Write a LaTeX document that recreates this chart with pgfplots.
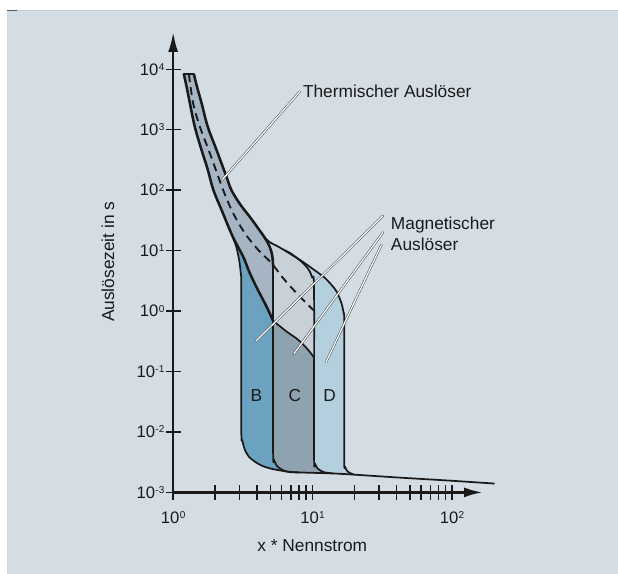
\documentclass[border=0pt]{standalone}
\usepackage{pgfplots}
\pgfplotsset{compat=1.18}
\usepackage{fontspec}
\setmainfont{Liberation Sans}
\usetikzlibrary{arrows.meta}
\definecolor{bgc}{HTML}{D4DDE4}
\definecolor{thermal}{HTML}{A5B5C3}
\definecolor{bblue}{HTML}{6AA2C0}
\definecolor{cdark}{HTML}{8FA2B0}
\definecolor{clight}{HTML}{C9D1D8}
\definecolor{dlight}{HTML}{B4D0DF}
\definecolor{txt}{HTML}{1A1A1A}
\definecolor{lineg}{HTML}{C4CACE}
\definecolor{darkg}{HTML}{555555}
\newcommand{\tp}[1]{10\kern0.2pt\raisebox{3.6pt}{\fontsize{7.5pt}{8pt}\selectfont #1}}
\newcommand{\lab}{\fontsize{13pt}{15pt}\selectfont}
\begin{document}
\begin{tikzpicture}
\begin{scope}[x=0.75pt,y=-0.75pt]
\path (0,0) rectangle (618,574);
\fill[bgc] (7,10) rectangle (618,574);
\draw[line width=0.75pt, lineg] (7,10.4) -- (618,10.4);
\draw[line width=0.75pt, darkg] (7,10.4) -- (17,10.4);
\end{scope}
\begin{axis}[
  at={(129.975pt,-369.6pt)}, anchor=south west,
  scale only axis, width=232.3pt, height=345.6pt,
  xmode=log, ymode=log,
  xmin=1, xmax=166, ymin=1e-3, ymax=41400,
  axis lines=left, clip=false,
  axis line style={line width=1.8pt, txt},
  x axis line style={-{Latex[length=14pt,width=7.5pt]}},
  y axis line style={-{Latex[length=15pt,width=7.5pt]}},
  xtick={1,10,100}, xticklabels={\tp{0},\tp{1},\tp{2}},
  ytick={1e-3,1e-2,1e-1,1,10,100,1000,10000},
  yticklabels={\tp{-3},\tp{-2},\tp{-1},\tp{0},\tp{1},\tp{2},\tp{3},\tp{4}},
  yminorticks=false,
  tick align=center, major tick length=11.25pt, minor tick length=11.25pt,
  tick style={line width=1.1pt, txt},
  every tick label/.append style={font=\fontsize{12.5pt}{14pt}\selectfont, text=txt, inner sep=0pt},
  xticklabel style={anchor=north},
  yticklabel style={anchor=east},
  xticklabel shift=8.75pt,
  yticklabel shift=0.8pt,
]
% D band (light blue)
\addplot[fill=dlight, draw=none] coordinates {
(1.193,8360) (1.254,4909) (1.317,2773) (1.431,1112) (1.598,463) (1.773,216.6) (1.942,101) (2.223,47.2) (2.679,16.9)
(2.838,11.56) (2.972,7.05) (3.052,4.30) (3.083,2.25) (3.083,0.01092) (3.124,0.00746) (3.266,0.00509) (3.488,0.00391) (3.852,0.00323) (4.395,0.00272) (5.21,0.002427) (6.53,0.00221)
(8.09,0.00214) (13.96,0.00206) (19.74,0.001969)
(17.88,0.00221) (17.1,0.00267) (16.87,0.003761) (16.87,0.594)
(16.68,0.938) (16.11,1.356) (14.91,2.085) (13.66,2.72) (12.23,3.55) (10.66,4.51) (9.24,5.71) (8.094,7.05) (7.093,8.52) (6.22,10.31)
(5.54,12.0) (5.015,13.46) (4.54,16.3)
(4.048,23.8) (3.546,36.2) (3.007,59.4) (2.614,101) (2.414,166) (2.047,463) (1.773,1112) (1.598,2773) (1.491,4909) (1.407,8360)
} -- cycle;
% C band (light grey)
\addplot[fill=clight, draw=none] coordinates {
(1.193,8360) (1.254,4909) (1.317,2773) (1.431,1112) (1.598,463) (1.773,216.6) (1.942,101) (2.223,47.2) (2.679,16.9)
(2.838,11.56) (2.972,7.05) (3.052,4.30) (3.083,2.25) (3.083,0.01092) (3.124,0.00746) (3.266,0.00509) (3.488,0.00391) (3.852,0.00323) (4.395,0.00272) (5.21,0.002427) (6.53,0.00221)
(8.09,0.00214) (13.96,0.00206) (12.03,0.002165) (10.90,0.002474) (10.42,0.00299) (10.25,0.004215) (10.25,2.25)
(9.95,3.55) (9.393,4.815) (8.506,6.285) (7.70,7.60) (6.87,9.20) (6.22,10.31) (5.54,12.0) (5.015,13.46) (4.54,16.3)
(4.048,23.8) (3.546,36.2) (3.007,59.4) (2.614,101) (2.414,166) (2.047,463) (1.773,1112) (1.598,2773) (1.491,4909) (1.407,8360)
} -- cycle;
% C band below thermal curve (dark grey)
\addplot[fill=cdark, draw=none] coordinates {
(5.21,0.691) (6.50,0.460) (7.87,0.3355) (9.29,0.229) (10.25,0.169) (10.25,0.004215) (10.42,0.00299) (10.90,0.002474) (12.03,0.002165) (13.96,0.00206)
(8.09,0.00214) (6.87,0.002165) (6.015,0.00238) (5.54,0.00277) (5.287,0.00348) (5.21,0.0051)
} -- cycle;
% B band (dark blue)
\addplot[fill=bblue, draw=none] coordinates {
(2.679,16.9) (2.838,11.56) (2.972,7.05) (3.052,4.30) (3.083,2.25) (3.083,0.01092) (3.124,0.00746) (3.266,0.00509) (3.488,0.00391) (3.852,0.00323) (4.395,0.00272) (5.21,0.002427) (6.53,0.00221)
(6.015,0.00238) (5.54,0.00277) (5.287,0.00348) (5.21,0.0051) (5.21,5.61) (5.14,8.2) (4.93,11.55) (4.54,16.3)
} -- cycle;
% thermal band
\addplot[fill=thermal, draw=none] coordinates {
(1.193,8360) (1.254,4909) (1.317,2773) (1.431,1112) (1.598,463) (1.773,216.6) (1.942,101) (2.223,47.2) (2.679,16.9)
(3.176,7.99) (3.546,4.25) (4.048,2.25) (4.672,1.19) (5.21,0.691) (5.21,5.61) (5.14,8.2) (4.93,11.55) (4.54,16.3)
(4.048,23.8) (3.546,36.2) (3.007,59.4) (2.614,101) (2.414,166) (2.047,463) (1.773,1112) (1.598,2773) (1.491,4909) (1.407,8360)
} -- cycle;
% outlines (magnetic)
\addplot[txt, line width=1.3pt, smooth, tension=0.5, line join=round] coordinates {
(5.21,0.691) (6.50,0.460) (7.87,0.3355) (9.29,0.229) (10.25,0.169)};
\addplot[txt, line width=1.3pt, smooth, tension=0.4, line join=round] coordinates {
(5.21,5.61) (5.21,0.0051) (5.287,0.00348) (5.54,0.00277) (6.015,0.00238) (6.87,0.002165) (8.09,0.00214)};
\addplot[txt, line width=1.3pt, smooth, tension=0.45, line join=round] coordinates {
(2.679,16.9) (2.838,11.56) (2.972,7.05) (3.052,4.30) (3.083,2.25) (3.083,0.01092) (3.124,0.00746) (3.266,0.00509) (3.488,0.00391) (3.852,0.00323) (4.395,0.00272) (5.21,0.002427) (6.53,0.00221)};
\addplot[txt, line width=1.3pt, smooth, tension=0.45, line join=round] coordinates {
(4.54,16.3) (5.015,13.46) (5.54,12.0) (6.22,10.31) (6.87,9.20) (7.70,7.60) (8.506,6.285) (9.393,4.815) (9.95,3.55) (10.25,2.25)
(10.25,0.004215) (10.42,0.00299) (10.90,0.002474) (12.03,0.002165) (13.96,0.00206)};
\addplot[txt, line width=1.3pt, smooth, tension=0.45, line join=round] coordinates {
(6.22,10.31) (7.093,8.52) (8.094,7.05) (9.24,5.71) (10.66,4.51) (12.23,3.55) (13.66,2.72) (14.91,2.085) (16.11,1.356) (16.68,0.938) (16.87,0.594)
(16.87,0.003761) (17.1,0.00267) (17.88,0.00221) (19.74,0.001969)};
\addplot[txt, line width=1.3pt, smooth, tension=0.45, line join=round] coordinates {
(6.53,0.00221) (8.09,0.00214) (13.96,0.00206) (19.74,0.001969) (42.2,0.001756) (96.3,0.001567) (202.3,0.00140)};
% thermal outlines
\addplot[txt, line width=1.9pt, smooth, tension=0.6, line join=round] coordinates {
(1.193,8360) (1.254,4909) (1.317,2773) (1.431,1112) (1.598,463) (1.773,216.6) (1.942,101) (2.223,47.2) (2.679,16.9)
(3.176,7.99) (3.546,4.25) (4.048,2.25) (4.672,1.19) (5.21,0.691)};
\addplot[txt, line width=1.9pt, smooth, tension=0.6, line join=round] coordinates {
(1.407,8360) (1.491,4909) (1.598,2773) (1.773,1112) (2.047,463) (2.414,166) (2.614,101) (3.007,59.4) (3.546,36.2) (4.048,23.8) (4.54,16.3)
(4.93,11.55) (5.14,8.2) (5.21,5.61)};
\addplot[txt, line width=1.9pt, line cap=round] coordinates {(1.193,8360) (1.407,8360)};
% dashed mean curve
\addplot[txt, line width=1.4pt, smooth, tension=0.5, dash pattern=on 6pt off 4pt] coordinates {
(1.296,8360) (1.391,2742) (1.554,1125) (1.833,409) (2.282,101) (2.692,41.7) (3.266,19.47) (4.068,10.31) (5.075,6.21) (6.145,3.513) (7.665,1.984) (9.55,1.191) (10.66,0.927)};
\end{axis}
\begin{scope}[x=0.75pt,y=-0.75pt]
\tikzset{leader/.style={draw=black!70, double=white, double distance=0.9pt, line width=0.4pt, line cap=round}}
\draw[leader] (222.3,180) -- (300,91.7);
\draw[leader] (256.7,340.7) -- (383.3,216);
\draw[leader] (294,354.3) -- (383.3,232.7);
\draw[leader] (326.7,361.7) -- (381.7,245);
\node[anchor=base west, font=\lab, text=txt, inner sep=0pt] at (303,97.3) {Thermischer Auslöser};
\node[anchor=base west, font=\lab, text=txt, inner sep=0pt] at (391,230) {Magnetischer};
\node[anchor=base west, font=\lab, text=txt, inner sep=0pt] at (391,250.7) {Auslöser};
\node[font=\lab, text=txt, inner sep=0pt] at (256.7,396) {B};
\node[font=\lab, text=txt, inner sep=0pt] at (295,396) {C};
\node[font=\lab, text=txt, inner sep=0pt] at (330,396) {D};
\node[font=\lab, text=txt, inner sep=0pt] at (312.5,546) {x * Nennstrom};
\node[font=\lab, text=txt, inner sep=0pt, rotate=90] at (108,262) {Auslösezeit in s};
\end{scope}
\end{tikzpicture}
\end{document}
